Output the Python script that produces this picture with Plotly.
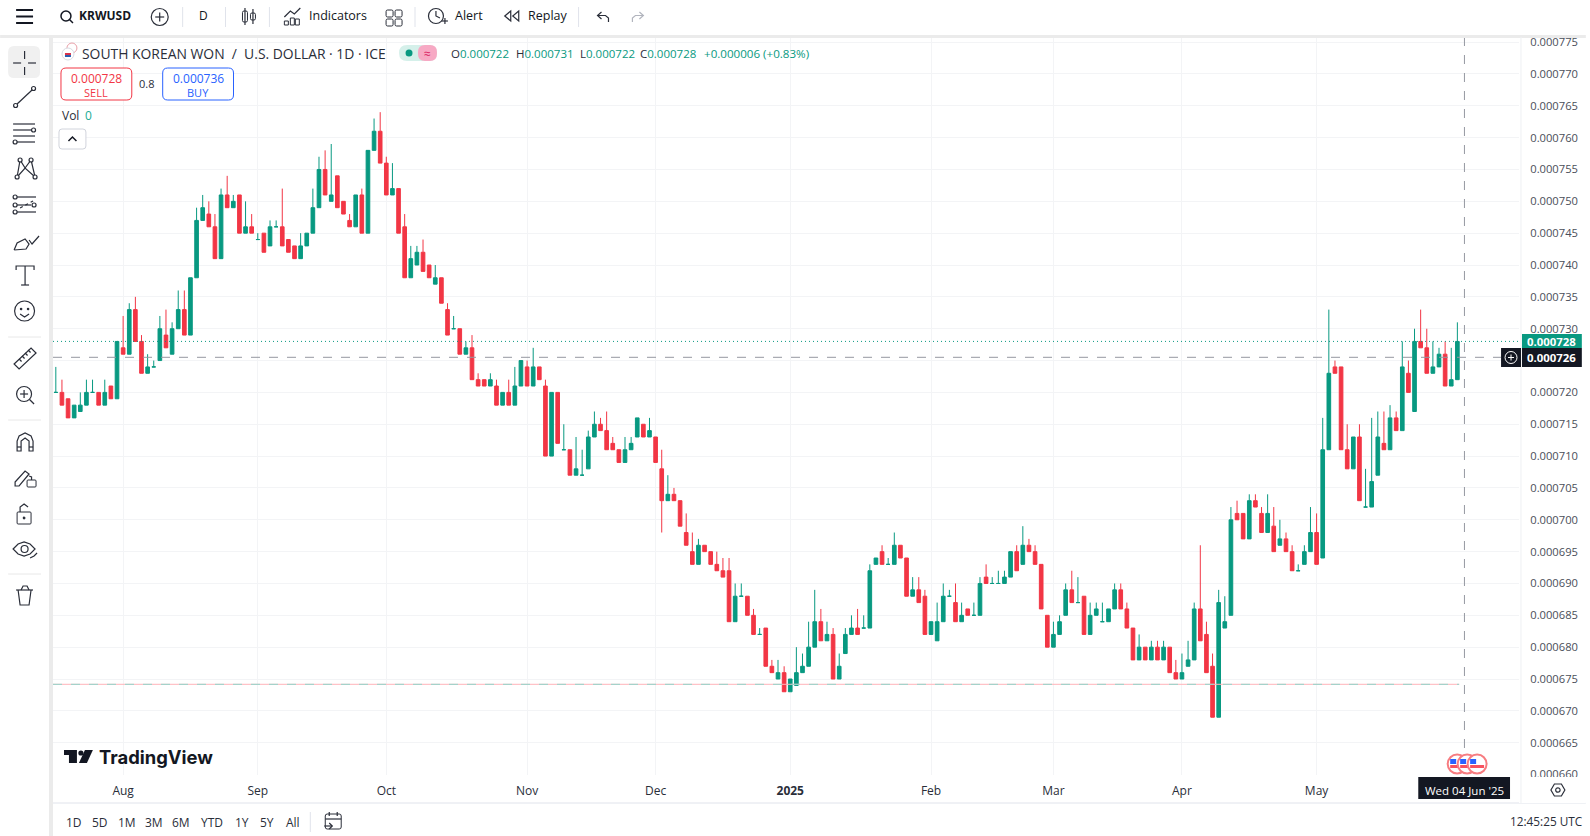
import pandas as pd
import plotly.graph_objects as go

# prices are in millionths of a dollar (tick size 0.000001)
opens = [720,720,719,716,717,718,720,720,718,721,
         719,727,726,733,728,723,724,725,729,726,
         730,733,729,738,747,748,746,741,751,749,
         751,745,746,744,745,743,746,746,744,743,
         741,743,745,749,755,750,754,750,747,746,
         751,745,758,761,756,751,752,746,738,740,
         742,740,737,738,733,730,730,726,727,722,
         722,721,721,718,720,718,721,724,721,724,
         721,710,720,711,711,707,707,708,713,715,
         714,712,711,709,711,713,715,713,713,708,
         703,704,703,698,695,693,696,695,693,692,
         692,684,688,688,685,682,683,677,675,676,
         673,674,676,677,680,684,681,682,675,679,
         682,683,683,683,693,695,693,693,696,694,
         688,689,688,682,681,684,688,687,684,686,
         685,685,691,690,690,690,691,695,693,696,
         695,693,685,680,682,685,689,687,688,682,
         685,684,684,686,689,686,683,678,680,678,
         680,678,680,676,675,677,678,686,682,677,
         669,683,685,701,701,697,703,701,698,699,
         696,697,695,692,693,695,698,694,711,724,
         724,711,708,713,702,702,707,712,711,716,
         714,723,717,728,727,723,724,726,721,722]
highs = [724,722,719,718,720,722,722,720,722,721,
         728,732,734,735,729,726,725,732,733,731,
         736,736,738,749,751,750,748,752,754,751,
         751,750,748,745,745,747,747,752,744,743,
         745,745,752,757,758,759,754,750,748,751,
         752,758,763,764,757,756,752,748,743,743,
         744,740,740,738,734,732,730,728,729,723,
         722,723,722,720,722,724,725,725,727,724,
         722,720,720,715,711,713,711,714,717,716,
         717,713,711,713,713,716,715,716,713,711,
         707,705,703,701,698,697,696,695,695,694,
         694,690,690,688,686,683,683,678,678,677,
         675,680,679,684,689,686,684,683,679,683,
         685,686,685,693,694,696,694,698,696,694,
         691,691,689,684,687,690,689,690,687,686,
         687,691,693,691,692,692,695,696,699,697,
         696,693,685,684,685,690,692,691,688,687,
         687,687,686,690,690,687,683,682,680,681,
         681,681,680,678,679,681,687,696,684,679,
         689,688,702,703,701,704,704,702,704,702,
         700,698,696,693,696,702,701,716,733,725,
         724,715,713,715,708,716,717,717,718,717,
         728,725,730,733,730,728,727,728,727,731]
lows = [720,718,716,716,717,718,720,718,718,719,
        719,726,726,728,723,723,724,725,727,726,
        730,729,729,738,747,746,741,741,749,749,
        745,745,745,744,742,743,746,743,742,741,
        741,743,745,749,751,750,749,748,746,746,
        745,745,758,756,751,751,745,738,738,740,
        739,738,737,734,729,730,726,726,722,721,
        721,721,718,718,718,718,721,721,721,722,
        710,710,712,711,707,707,707,708,713,714,
        711,711,709,709,711,713,713,713,709,698,
        703,703,699,696,693,693,695,693,692,691,
        684,684,688,685,682,682,677,676,675,673,
        673,674,676,677,680,681,681,675,675,679,
        682,682,683,683,693,693,693,693,694,688,
        688,687,682,682,681,684,688,684,684,685,
        685,685,690,690,690,690,691,692,693,695,
        693,686,680,680,682,685,687,687,682,682,
        685,684,684,686,686,683,678,678,678,678,
        678,678,676,675,675,677,678,681,676,669,
        669,683,685,700,697,697,702,698,698,695,
        696,695,692,692,693,695,693,694,711,723,
        711,708,708,703,702,702,707,711,711,714,
        714,720,717,727,723,723,724,721,721,722]
closes = [720,718,716,718,718,720,720,718,720,719,
          728,726,733,728,723,724,724,730,727,730,
          733,729,738,747,749,746,741,751,749,750,
          745,746,745,744,742,746,746,743,742,741,
          743,745,749,755,751,751,749,748,746,751,
          745,758,761,756,751,752,745,738,741,742,
          739,738,738,734,729,730,726,727,722,721,
          721,722,718,720,718,721,725,721,724,722,
          710,720,712,711,707,708,707,713,715,714,
          711,711,709,711,712,716,713,714,709,703,
          704,703,699,696,693,696,695,693,692,691,
          684,688,688,685,682,682,677,676,676,673,
          675,676,677,680,684,681,682,675,677,682,
          683,682,683,692,694,693,693,696,694,688,
          689,687,682,684,684,688,688,684,685,685,
          685,690,690,690,690,691,695,692,696,695,
          693,686,680,682,684,689,687,687,682,685,
          686,684,686,689,686,683,678,680,678,680,
          678,680,676,675,676,678,686,681,676,669,
          687,684,700,700,697,703,702,698,701,695,
          697,695,692,692,695,698,693,711,723,723,
          711,708,713,703,702,706,713,711,716,714,
          724,720,728,727,723,724,726,721,722,728]

first_day = "2024-07-17"
price_ticks = [660,665,670,675,680,685,690,695,700,705,710,715,720,725,730,735,740,745,750,755,760,765,770,775]
hidden_tick = 725  # sits behind the crosshair price tag
month_days = ["2024-08-01","2024-09-02","2024-10-01","2024-11-01","2024-12-02","2025-01-01","2025-02-03","2025-03-03","2025-04-01","2025-05-01"]
month_labels = ["Aug","Sep","Oct","Nov","Dec","<b>2025</b>","Feb","Mar","Apr","May"]
range_buttons = [("1D",74),("5D",100),("1M",127),("3M",154),("6M",181),("YTD",212),("1Y",243),("5Y",268),("All",294)]

UP = "#089981"
DOWN = "#F23645"
GRID = "#f3f4f6"
INK = "#131722"
ICON = "#2a2e39"
FONT = "Open Sans"

# pane edges in page pixels
L, R, T, B = 53, 1523, 37, 775

def px(x):
    return (x - L) / (R - L)

def py(y):
    return (B - y) / (B - T)

shapes, notes = [], []

def line(x0, y0, x1, y1, color=ICON, w=1.2, dash=None):
    shapes.append(dict(type="line", xref="paper", yref="paper", x0=px(x0), y0=py(y0), x1=px(x1), y1=py(y1),
                       line=dict(color=color, width=w, dash=dash), layer="above"))

def rect(x0, y0, x1, y1, fill, edge=None, w=1):
    shapes.append(dict(type="rect", xref="paper", yref="paper", x0=px(x0), y0=py(y0), x1=px(x1), y1=py(y1),
                       fillcolor=fill, line=dict(color=edge or fill, width=w if edge else 0), layer="above"))

def circ(cx, cy, r, fill="rgba(0,0,0,0)", edge=ICON, w=1.2):
    shapes.append(dict(type="circle", xref="paper", yref="paper", x0=px(cx - r), y0=py(cy - r), x1=px(cx + r), y1=py(cy + r),
                       fillcolor=fill, line=dict(color=edge, width=w), layer="above"))

def poly(points, fill="rgba(0,0,0,0)", edge=ICON, w=1.2, close=False):
    d = "M" + " L".join(f"{px(x):.5f},{py(y):.5f}" for x, y in points) + (" Z" if close else "")
    shapes.append(dict(type="path", xref="paper", yref="paper", path=d, fillcolor=fill,
                       line=dict(color=edge, width=w), layer="above"))

def rrect(x0, y0, x1, y1, r, fill="#ffffff", edge=None, w=1):
    d = (f"M{px(x0+r)},{py(y0)} L{px(x1-r)},{py(y0)} Q{px(x1)},{py(y0)} {px(x1)},{py(y0+r)} "
         f"L{px(x1)},{py(y1-r)} Q{px(x1)},{py(y1)} {px(x1-r)},{py(y1)} L{px(x0+r)},{py(y1)} "
         f"Q{px(x0)},{py(y1)} {px(x0)},{py(y1-r)} L{px(x0)},{py(y0+r)} Q{px(x0)},{py(y0)} {px(x0+r)},{py(y0)} Z")
    shapes.append(dict(type="path", xref="paper", yref="paper", path=d, fillcolor=fill,
                       line=dict(color=edge or fill, width=w if edge else 0), layer="above"))

def label(x, y, text, size=12, color=INK, anchor="left", family=FONT):
    notes.append(dict(xref="paper", yref="paper", x=px(x), y=py(y), text=text, showarrow=False, xanchor=anchor,
                      yanchor="middle", font=dict(size=size, color=color, family=family), borderpad=0, borderwidth=0))

# price lines and crosshair
line(L, 341.4, R, 341.4, UP, 1, "1px,3px")
line(L, 357.3, 1505, 357.3, "#9598a1", 1, "dash")
line(L, 684.3, 1463, 684.3, "#ffb3ba", 1)
line(L, 684.3, 1463, 684.3, "#8fd6cb", 1, "dash")
line(1468.3, T, 1468.3, B, "#9598a1", 1, "dash")

# chrome bands
rect(0, 0, 1590, 35, "#ffffff")
rect(0, 35, 1590, 38, "#ebebeb")
rect(0, 38, 49, 836, "#ffffff")
rect(49, 38, 53, 836, "#ebebeb")
rect(53, 803, 1590, 836, "#ffffff")
line(53, 803, 1590, 803, "#e0e3eb", 1)
rect(1523, 777, 1590, 803, "#ffffff")
line(1525, T, 1525, 803, "#eef0f3", 1)

# top toolbar
for yy in (10, 16.5, 23):
    line(16, yy, 33, yy, INK, 2)
circ(66, 16, 5, edge=INK, w=1.5)
line(69.5, 19.5, 73, 23, INK, 1.5)
label(79, 15.5, "<b>KRWUSD</b>", 12)
circ(160, 17, 8.5)
line(155.5, 17, 164.5, 17)
line(160, 12.5, 160, 21.5)
for xx in (183, 226, 270, 416, 580):
    line(xx, 7, xx, 27, "#e0e3eb", 1)
label(204, 16, "D", 12, anchor="center")
rrect(243, 11, 248, 22, 1.5, edge=ICON)
rrect(251, 13, 256, 20, 1.5, edge=ICON)
line(245.5, 8, 245.5, 25)
line(253.5, 9, 253.5, 24)
poly([(285, 17), (291, 11), (295, 14), (301, 8)])
for xx, yy in ((285, 21), (291, 18), (296, 19)):
    rect(xx, yy, xx + 4, 25, "#ffffff", ICON)
label(310, 16, "Indicators", 12.5)
for xx in (387, 396):
    for yy in (10, 19):
        rrect(xx, yy, xx + 7, yy + 7, 1.5, edge=ICON)
circ(437, 16, 7.5)
poly([(437, 11), (437, 16), (441, 18)])
line(443, 21, 449, 21)
line(446, 18, 446, 24)
label(456, 16, "Alert", 12.5)
poly([(512, 11), (506, 16), (512, 21)], close=True)
poly([(520, 11), (514, 16), (520, 21)], close=True)
label(529, 16, "Replay", 12.5)
poly([(603, 12), (599, 15.5), (603, 19)])
poly([(599, 15.5), (607, 15.5), (610, 18), (610, 22)])
poly([(641, 12), (645, 15.5), (641, 19)], edge="#b2b5be")
poly([(645, 15.5), (637, 15.5), (634, 18), (634, 22)], edge="#b2b5be")

# series legend
circ(72, 48, 5, fill="#ffffff", edge="#e9a0a8", w=1)
circ(68, 54, 6, fill="#ffffff", edge="#d8dbe2", w=1)
rect(65, 53, 71, 55, "#d8324a")
rect(65, 55, 71, 57, "#2a5db0")
label(82, 53, "SOUTH KOREAN WON  /  U.S. DOLLAR · 1D · ICE", 13.9, "#2a2e39")
rrect(400, 45, 438, 61, 8, fill="#d5f0ea")
rrect(419, 45, 438, 61, 7, fill="#f7a9c4")
circ(410, 53, 3.5, fill=UP, edge=UP, w=0)
label(428.5, 53, "≈", 12, "#d81b60", anchor="center")
for xx, head, num in ((452, "O", "0.000722"), (517, "H", "0.000731"), (581, "L", "0.000722"), (642, "C", "0.000728")):
    label(xx, 53, f"{head}<span style='color:{UP}'>{num}</span>", 11.5, "#2a2e39")
label(706, 53, "+0.000006 (+0.83%)", 11.6, UP)
rrect(61, 68, 132, 100, 5, edge=DOWN)
label(96.5, 78, "0.000728", 12, DOWN, anchor="center")
label(96.5, 92, "SELL", 11, DOWN, anchor="center")
label(147, 84, "0.8", 11, "#2a2e39", anchor="center")
rrect(163, 68, 234, 100, 5, edge="#2962ff")
label(198.5, 78, "0.000736", 12, "#2962ff", anchor="center")
label(198.5, 92, "BUY", 11, "#2962ff", anchor="center")
label(62, 115, "Vol", 12, "#2a2e39")
label(85, 115, "0", 12, "#22ab94")
rrect(59, 129, 86, 149, 3, edge="#d1d4dc")
poly([(68.5, 141), (72.5, 137), (76.5, 141)], edge=INK, w=1.5)

# left drawing toolbar
rrect(8, 46, 40, 78, 6, fill="#f0f0f0")
line(13, 63, 21, 63)
line(28, 63, 36, 63)
line(24.5, 51, 24.5, 59)
line(24.5, 67, 24.5, 75)
line(17, 104, 32, 90)
circ(15.5, 105.5, 2)
circ(33.5, 88.5, 2)
for yy, x1 in ((124, 35), (130, 31), (136, 35), (142, 35)):
    line(13, yy, x1, yy)
circ(33.5, 130, 2, fill="#ffffff")
circ(15, 142, 2, fill="#ffffff")
poly([(17, 177), (20, 160), (25, 168), (31, 160), (35, 177), (25, 168), (17, 177)])
for xx, yy in ((17, 177), (20, 160), (31, 160), (35, 177)):
    circ(xx, yy, 2, fill="#ffffff")
for yy, x0, x1 in ((197, 17, 36), (205, 17, 31), (212, 17, 36)):
    line(x0, yy, x1, yy)
    circ(15, yy, 2, fill="#ffffff")
line(20, 208, 33, 201, dash="dot")
circ(34, 205, 2, fill="#ffffff")
poly([(14, 250), (17, 243), (25, 239), (29, 244), (26, 249), (14, 250)])
poly([(29, 240), (32, 244), (39, 236)])
poly([(16, 270), (16, 266), (34, 266), (34, 270)])
line(25, 266, 25, 285)
line(21, 285, 29, 285)
circ(24.5, 311, 10)
circ(21, 309, 0.7, fill=ICON)
circ(28, 309, 0.7, fill=ICON)
poly([(20, 314), (24.5, 317), (29, 314)])
poly([(14, 364), (31, 348), (36, 353), (19, 369)], close=True)
for xx, yy in ((19, 359), (22, 356), (25, 353), (28, 350)):
    line(xx, yy, xx + 2.5, yy + 2.5)
circ(24, 394, 7.5)
line(20, 394, 28, 394)
line(24, 390, 24, 398)
line(29.5, 399.5, 34, 404)
for yy in (337, 420, 574):
    line(8, yy, 41, yy, "#e8e8e8", 1)
poly([(17, 451), (17, 441), (19, 436), (25, 433), (31, 436), (33, 441), (33, 451), (29, 451), (29, 441), (25, 438), (21, 441), (21, 451)], close=True)
line(17, 447, 21, 447)
line(29, 447, 33, 447)
poly([(15, 482), (25, 471), (29, 474), (19, 486), (15, 486)], close=True)
rrect(27, 480, 36, 487, 1, fill="#ffffff", edge=ICON)
poly([(31.5, 480), (31.5, 477), (29, 476)])
rrect(17, 512, 31, 524, 1, edge=ICON)
poly([(20, 512), (20, 507), (24, 504), (28, 507)])
circ(24, 518, 0.8, fill=ICON)
poly([(13, 549), (18, 544), (24, 542), (30, 544), (35, 549), (30, 554), (24, 556), (18, 554)], close=True)
circ(24.5, 549, 3.5)
poly([(30, 558), (34, 556), (37, 553)])
poly([(16, 590), (33, 590)])
poly([(18, 590), (20, 605), (29, 605), (31, 590)])
poly([(21, 590), (23, 586), (27, 586), (29, 590)])

# watermark
rect(64, 750, 77, 755, "#131722")
rect(69, 755, 77, 763, "#131722")
circ(81, 753, 2.6, fill="#131722", edge="#131722", w=0)
poly([(85, 750), (93, 750), (87, 763), (79, 763)], fill="#131722", edge="#131722", w=0, close=True)
label(99, 756.5, "<b>TradingView</b>", 18.4, "#131722", family="Inter")

# event flags
for cx in (1461, 1471, 1481):
    circ(cx, 764, 9.5, fill="#ffffff", edge="#f77c80", w=2)
    rect(cx - 7, 765, cx + 7, 768, "#f7525f")
    rect(cx - 7, 759, cx - 1, 764, "#2962ff")

# axis tags
rect(1526, 334, 1586, 348, UP)
label(1556, 341, "<b>0.000728</b>", 11.4, "#ffffff", anchor="center")
rect(1526, 348, 1586, 367, "#131722")
label(1556, 357.5, "<b>0.000726</b>", 11.4, "#ffffff", anchor="center")
rect(1505, 348, 1525, 367, "#131722")
circ(1515, 357.5, 6, edge="#ffffff", w=1)
line(1512, 357.5, 1518, 357.5, "#ffffff", 1)
line(1515, 354.5, 1515, 360.5, "#ffffff", 1)
rect(1422, 777, 1514, 799, "#131722")
label(1468, 790, "Wed 04 Jun '25", 11.5, "#ffffff", anchor="center")
poly([(1555, 790), (1558.5, 784), (1565.5, 784), (1569, 790), (1565.5, 796), (1558.5, 796)], close=True)
circ(1562, 790, 2.2)

# bottom toolbar
for txt, xx in range_buttons:
    label(xx, 822, txt, 12, "#2a2e39", anchor="center")
line(311, 812, 311, 832, "#e0e3eb", 1)
rrect(326, 814, 342, 829, 2, edge=ICON)
line(326, 819, 342, 819)
line(330, 812, 330, 816)
line(338, 812, 338, 816)
line(325, 826, 333, 826)
poly([(330, 823), (333, 826), (330, 829)])
label(1587, 821, "12:45:25 UTC", 11.8, "#2a2e39", anchor="right")

days = [d.strftime("%Y-%m-%d") for d in pd.bdate_range(first_day, periods=len(closes))]
up_bars = [i for i in range(len(closes)) if closes[i] >= opens[i]]
down_bars = [i for i in range(len(closes)) if closes[i] < opens[i]]

fig = go.Figure()
for bars, col in ((up_bars, UP), (down_bars, DOWN)):
    fig.add_trace(go.Candlestick(
        x=[days[i] for i in bars],
        open=[opens[i] * 1e-6 for i in bars],
        high=[highs[i] * 1e-6 for i in bars],
        low=[lows[i] * 1e-6 for i in bars],
        close=[closes[i] * 1e-6 for i in bars],
        increasing=dict(line=dict(color=col, width=1), fillcolor=col),
        decreasing=dict(line=dict(color=col, width=1), fillcolor=col),
        whiskerwidth=0, showlegend=False, hoverinfo="skip"))

fig.update_layout(
    width=1590, height=836, margin=dict(l=L, r=1590 - R, t=T, b=836 - B),
    paper_bgcolor="#ffffff", plot_bgcolor="#ffffff", showlegend=False, boxgap=0.15,
    font=dict(family=FONT, size=12, color="#2a2e39"),
    shapes=shapes, annotations=notes)
fig.update_xaxes(
    type="category", categoryorder="array", categoryarray=days, range=[-0.46, 239.07],
    rangeslider=dict(visible=False), tickmode="array", tickvals=month_days, ticktext=month_labels,
    showgrid=True, gridcolor=GRID, gridwidth=1, zeroline=False, showline=False,
    ticks="outside", ticklen=5, tickcolor="rgba(0,0,0,0)", tickfont=dict(size=12, color="#2a2e39"))
fig.update_yaxes(
    side="right", range=[659.93e-6, 775.8e-6], tickmode="array", tickvals=[v * 1e-6 for v in price_ticks],
    ticktext=["" if v == hidden_tick else f"{v * 1e-6:.6f}" for v in price_ticks], showgrid=True, gridcolor=GRID, gridwidth=1,
    zeroline=False, showline=False, ticks="outside", ticklen=8, tickcolor="rgba(0,0,0,0)",
    tickfont=dict(size=11.2, color="#4a4e59"))

fig.write_html("out.html", config=dict(displayModeBar=False), post_script="document.body.style.margin='0';")
